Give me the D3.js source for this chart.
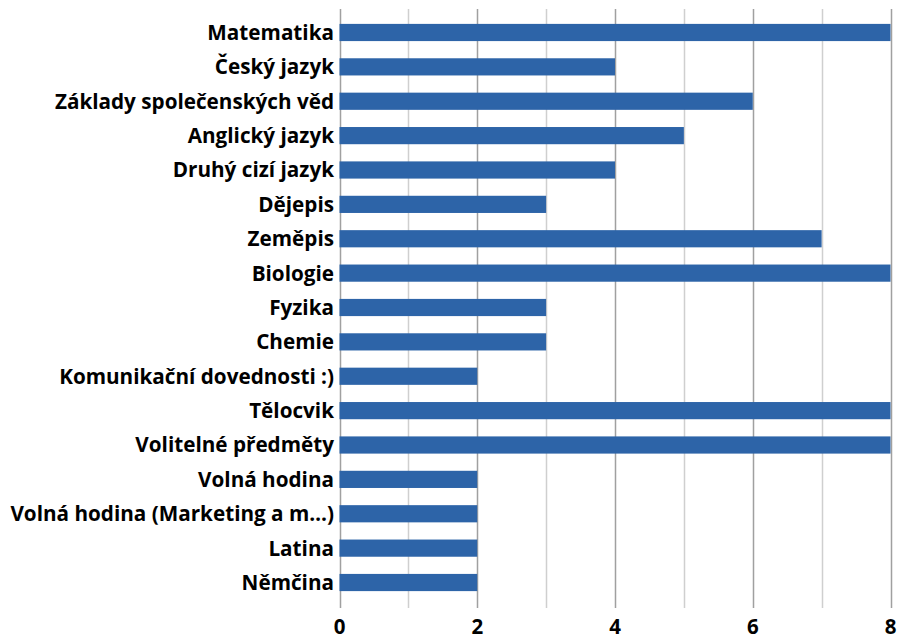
<!DOCTYPE html>
<html>
<head>
<meta charset="utf-8">
<script src="https://cdn.jsdelivr.net/npm/d3@7"></script>
<style>
    body { margin: 0; background: #fff; }
    svg { display: block; }
    .lbl { font-family: "Open Sans", "DejaVu Sans", sans-serif; font-weight: bold; fill: #000; }
</style>
</head>
<body>
<svg id="chart"></svg>
<script>
const subjects = [
    "Matematika", "Český jazyk", "Základy společenských věd", "Anglický jazyk",
    "Druhý cizí jazyk", "Dějepis", "Zeměpis", "Biologie", "Fyzika", "Chemie",
    "Komunikační dovednosti :)", "Tělocvik", "Volitelné předměty", "Volná hodina",
    "Volná hodina (Marketing a m…)", "Latina", "Němčina"
];
const hours = [8, 4, 6, 5, 4, 3, 7, 8, 3, 3, 2, 8, 8, 2, 2, 2, 2];
const majorTicks = [0, 2, 4, 6, 8];
const minorTicks = [1, 3, 5, 7];

const width = 901, height = 640;

let svg = d3.select("#chart")
    .attr("width", width)
    .attr("height", height);

let x = d3.scaleLinear()
    .domain([0, 8])
    .range([339.5, 890.5]);

let y = d3.scaleBand()
    .domain(subjects)
    .range([15.3, 599.7])
    .paddingInner(0.5)
    .paddingOuter(0.25);

// gridlines
svg.append("g")
    .selectAll("line.minor")
    .data(minorTicks)
    .join("line")
    .attr("x1", d => Math.round(x(d)) + 0.5)
    .attr("x2", d => Math.round(x(d)) + 0.5)
    .attr("y1", 9)
    .attr("y2", 608)
    .attr("stroke", "#cfcfcf")
    .attr("stroke-width", 1.5);

svg.append("g")
    .selectAll("line.major")
    .data(majorTicks)
    .join("line")
    .attr("x1", d => Math.round(x(d)) + 0.5)
    .attr("x2", d => Math.round(x(d)) + 0.5)
    .attr("y1", 9)
    .attr("y2", 608)
    .attr("stroke", "#a0a0a0")
    .attr("stroke-width", 1.5);

// bars
svg.append("g")
    .selectAll("rect")
    .data(subjects)
    .join("rect")
    .attr("x", x(0))
    .attr("y", d => y(d))
    .attr("width", (d, i) => x(hours[i]) - x(0))
    .attr("height", y.bandwidth())
    .attr("fill", "#2d64a8");

// category labels
svg.append("g")
    .selectAll("text")
    .data(subjects)
    .join("text")
    .attr("class", "lbl")
    .attr("x", 334)
    .attr("y", d => y(d) + y.bandwidth() / 2)
    .attr("dy", "0.36em")
    .attr("text-anchor", "end")
    .style("font-size", "20.7px")
    .text(d => d);

// x tick labels
svg.append("g")
    .selectAll("text")
    .data(majorTicks)
    .join("text")
    .attr("class", "lbl")
    .attr("x", d => x(d))
    .attr("y", 634)
    .attr("text-anchor", "middle")
    .style("font-size", "20.5px")
    .text(d => d);
</script>
</body>
</html>
